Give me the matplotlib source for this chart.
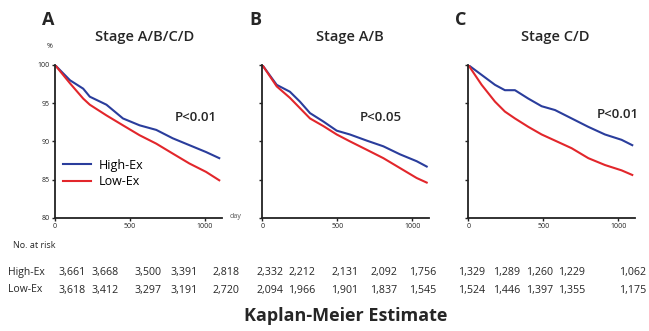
import matplotlib
matplotlib.use('Agg')
import matplotlib.pyplot as plt

plt.rcParams['font.family'] = ['Open Sans', 'DejaVu Sans']

BLUE = '#2a3d9c'
RED = '#e2262b'
TEXT = '#262626'

# survival curves (days, %)
a_days_hi = [0, 100, 188, 232, 343, 453, 564, 675, 785, 896, 1007, 1095]
a_high = [100, 98.0, 96.9, 95.85, 94.8, 93.0, 92.1, 91.5, 90.4, 89.5, 88.6, 87.8]
a_days_lo = [0, 100, 188, 232, 343, 453, 564, 675, 785, 896, 1007, 1095]
a_low = [100, 97.6, 95.6, 94.8, 93.4, 92.1, 90.8, 89.7, 88.4, 87.1, 86.0, 84.9]

b_days = [0, 96, 184, 251, 318, 407, 496, 584, 696, 807, 918, 1029, 1096]
b_high = [100, 97.4, 96.5, 95.2, 93.7, 92.6, 91.4, 90.9, 90.1, 89.35, 88.3, 87.4, 86.7]
b_low = [100, 97.2, 95.7, 94.35, 93.0, 92.0, 90.9, 90.0, 88.9, 87.8, 86.5, 85.2, 84.6]

c_days = [0, 89, 178, 244, 311, 400, 489, 578, 689, 800, 911, 1022, 1093]
c_high = [100, 98.7, 97.4, 96.7, 96.7, 95.6, 94.6, 94.1, 93.0, 91.9, 90.9, 90.2, 89.5]
c_low = [100, 97.4, 95.2, 93.9, 93.0, 91.9, 90.9, 90.1, 89.1, 87.8, 86.9, 86.2, 85.6]

panels = [
    ('A', 'Stage A/B/C/D', 'P<0.01', (a_days_hi, a_high), (a_days_lo, a_low)),
    ('B', 'Stage A/B', 'P<0.05', (b_days, b_high), (b_days, b_low)),
    ('C', 'Stage C/D', 'P<0.01', (c_days, c_high), (c_days, c_low)),
]

# number at risk table
risk_high = ['3,661', '3,668', '3,500', '3,391', '2,818',
             '2,332', '2,212', '2,131', '2,092', '1,756',
             '1,329', '1,289', '1,260', '1,229', '1,062']
risk_low = ['3,618', '3,412', '3,297', '3,191', '2,720',
            '2,094', '1,966', '1,901', '1,837', '1,545',
            '1,524', '1,446', '1,397', '1,355', '1,175']
risk_x = [72, 105, 148, 184, 226, 270, 302, 345, 384, 423,
          472, 507, 540, 572, 633]

W, H = 649, 331
fig = plt.figure(figsize=(W / 100, H / 100), dpi=100)
fig.patch.set_facecolor('white')

def fx(px):
    return px / W

def fy(py):
    return 1 - py / H

ax_lefts = [55, 262.3, 468.3]
ax_top, ax_bot = 65, 217.7
xmax = 1110
ax_w = xmax * 0.15

title_x = [145, 350, 555]
letter_x = [48, 255, 461]
pval_xy = [(196, 118), (381, 118), (618, 115)]

for i, (letter, title, pval, hi, lo) in enumerate(panels):
    ax = fig.add_axes([fx(ax_lefts[i]), fy(ax_bot), fx(ax_w), (ax_bot - ax_top) / H])
    ax.plot(hi[0], hi[1], color=BLUE, lw=1.5, label='High-Ex')
    ax.plot(lo[0], lo[1], color=RED, lw=1.5, label='Low-Ex')
    ax.set_xlim(0, xmax)
    ax.set_ylim(80, 100)
    for s in ['top', 'right']:
        ax.spines[s].set_visible(False)
    for s in ['left', 'bottom']:
        ax.spines[s].set_linewidth(1.3)
        ax.spines[s].set_color('#222222')
    ax.set_xticks([0, 500, 1000])
    ax.set_yticks([80, 85, 90, 95, 100])
    ax.tick_params(axis='both', length=2.5, width=1.0, pad=1.5,
                   labelsize=5, colors='#222222')
    if i != 0:
        ax.set_yticklabels([])
    else:
        ax.legend(loc='lower left', bbox_to_anchor=(0.02, 0.16), frameon=False,
                  fontsize=9, handlelength=2.2, handletextpad=0.6,
                  labelspacing=0.3, borderaxespad=0)
    fig.text(fx(letter_x[i]), fy(20), letter, fontsize=13, fontweight='bold',
             ha='center', va='center', color=TEXT)
    fig.text(fx(title_x[i]), fy(37), title, fontsize=10.5, fontweight='semibold',
             ha='center', va='center', color=TEXT)
    fig.text(fx(pval_xy[i][0]), fy(pval_xy[i][1]), pval, fontsize=9.5,
             fontweight='semibold', ha='center', va='center', color=TEXT)

fig.text(fx(50), fy(47), '%', fontsize=5, ha='center', va='center', color=TEXT)
fig.text(fx(236), fy(217), 'day', fontsize=5, ha='center', va='center', color='#555555')
fig.text(fx(13), fy(246), 'No. at risk', fontsize=6.5, ha='left', va='center', color=TEXT)

fig.text(fx(8), fy(272), 'High-Ex', fontsize=7.5, ha='left', va='center', color=TEXT)
fig.text(fx(8), fy(290), 'Low-Ex', fontsize=7.5, ha='left', va='center', color=TEXT)
for x, h, l in zip(risk_x, risk_high, risk_low):
    fig.text(fx(x), fy(272), h, fontsize=7.7, ha='center', va='center', color=TEXT)
    fig.text(fx(x), fy(290), l, fontsize=7.7, ha='center', va='center', color=TEXT)

fig.text(fx(346), fy(316), 'Kaplan-Meier Estimate', fontsize=13, fontweight='bold',
         ha='center', va='center', color=TEXT)

fig.savefig('out.png', dpi=100, facecolor='white')
